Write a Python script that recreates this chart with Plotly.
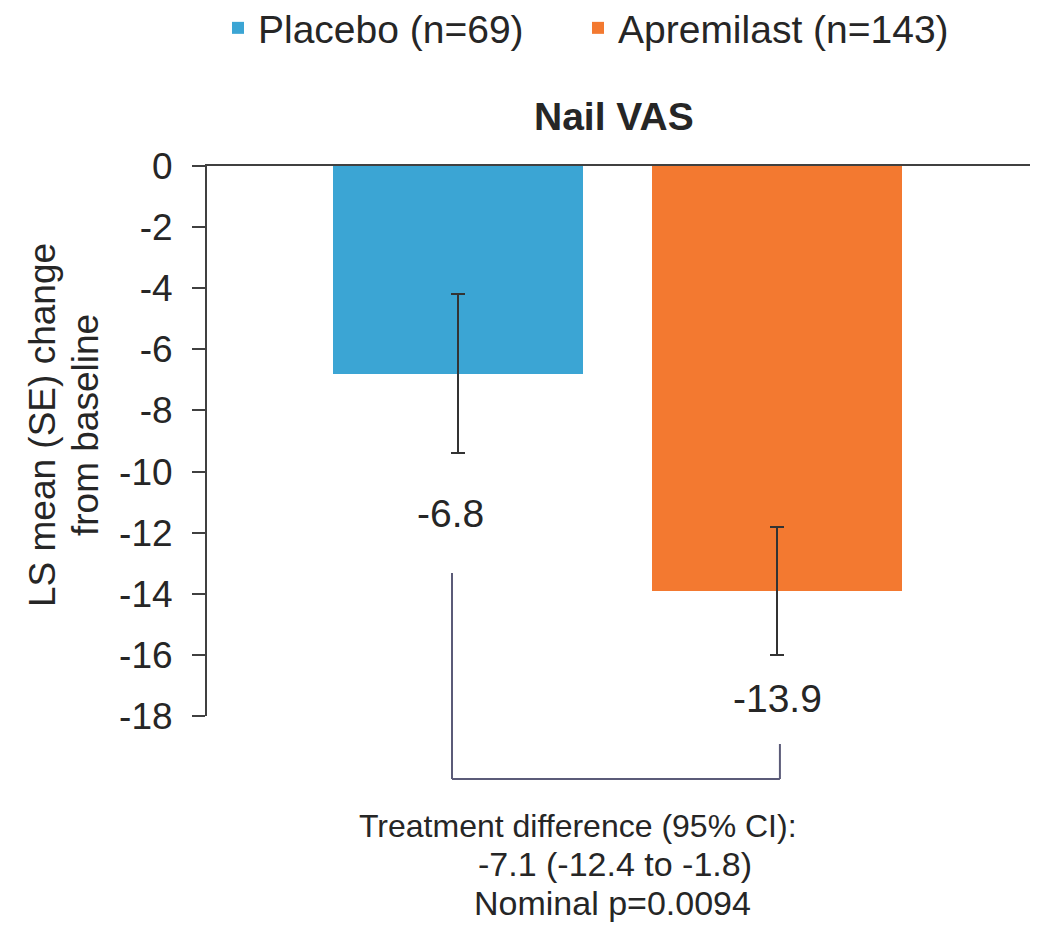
import plotly.graph_objects as go

# ---- data ----
groups = ["Placebo (n=69)", "Apremilast (n=143)"]
ls_mean = [-6.8, -13.9]
se = [2.6, 2.1]
value_labels = ["-6.8", "-13.9"]
colors = ["#3BA5D4", "#F37930"]
chart_title = "Nail VAS"
y_title_lines = ["LS mean (SE) change", "from baseline"]
y_ticks = [0, -2, -4, -6, -8, -10, -12, -14, -16, -18]
diff_lines = ["Treatment difference (95% CI):", "-7.1 (-12.4 to -1.8)", "Nominal p=0.0094"]

FONT = "Liberation Sans, Arial, Helvetica, sans-serif"
TXT = "#262626"
AX = "#404040"

# page offset (default body margin) and target plot area in page pixels
OFF = 8
W, H = 1043 - OFF, 929 - OFF
L, R, T, B = 207, 1030, 166, 716
def px(x):
    return (x - L) / (R - L)
def py(y):
    return (B - y) / (B - T)

fig = go.Figure()
legend_ids = ["legend", "legend2"]
for i, g in enumerate(groups):
    fig.add_trace(go.Bar(
        x=[i], y=[ls_mean[i]], name=g, width=0.784, legend=legend_ids[i],
        marker=dict(color=colors[i], line=dict(width=0)),
        error_y=dict(type="data", array=[se[i]], symmetric=True,
                     color="#333333", thickness=2, width=7),
    ))

# value labels below error bars
label_shift = [(-8, -60), (0, -44)]
for i in range(len(groups)):
    fig.add_annotation(x=i, y=ls_mean[i] - se[i], xref="x", yref="y",
                       text=value_labels[i], showarrow=False,
                       xshift=label_shift[i][0], yshift=label_shift[i][1],
                       yanchor="middle", font=dict(size=39, color=TXT, family=FONT))

# bracket for treatment difference
bcol = "#5B5B78"
fig.add_shape(type="line", xref="x", yref="paper", x0=-0.019, x1=-0.019, y0=py(573), y1=py(779),
              line=dict(color=bcol, width=2))
fig.add_shape(type="line", xref="x", yref="paper", x0=1.009, x1=1.009, y0=py(744), y1=py(779),
              line=dict(color=bcol, width=2))
fig.add_shape(type="line", xref="x", yref="paper", x0=-0.019, x1=1.009, y0=py(779), y1=py(779),
              line=dict(color=bcol, width=2))

# treatment-difference text
diff_pos = [(578, 826), (615, 864), (612, 903)]
diff_size = [32, 34, 34]
for (x, y), t, s in zip(diff_pos, diff_lines, diff_size):
    fig.add_annotation(x=px(x), y=py(y), xref="paper", yref="paper",
                       text=t, showarrow=False, xanchor="center", yanchor="middle",
                       font=dict(size=s, color=TXT, family=FONT))

# chart title
fig.add_annotation(x=px(614), y=py(116), xref="paper", yref="paper",
                   text="<b>" + chart_title + "</b>", showarrow=False,
                   xanchor="center", yanchor="middle",
                   font=dict(size=39, color=TXT, family=FONT))

# y title (two rotated lines)
for (x, t) in zip([42, 85], y_title_lines):
    fig.add_annotation(x=px(x), y=py(425), xref="paper", yref="paper",
                       text=t, showarrow=False, textangle=-90,
                       xanchor="center", yanchor="middle",
                       font=dict(size=37, color=TXT, family=FONT))

leg_common = dict(orientation="h", xanchor="left", yanchor="middle", y=py(28),
                  font=dict(size=39, color=TXT, family=FONT),
                  itemclick=False, itemdoubleclick=False)

fig.update_layout(
    width=W, height=H,
    margin=dict(l=L - OFF, r=(W + OFF) - R, t=T - OFF, b=(H + OFF) - B, autoexpand=False),
    paper_bgcolor="white", plot_bgcolor="white",
    font=dict(family=FONT, color=TXT),
    showlegend=True,
    legend=dict(x=px(218), **leg_common),
    legend2=dict(x=px(578), **leg_common),
    xaxis=dict(range=[-0.787, 1.793], side="top", showline=True, linecolor=AX, linewidth=2,
               showticklabels=False, ticks="", showgrid=False, zeroline=False,
               fixedrange=True, automargin=False),
    yaxis=dict(range=[-18, 0], tickvals=y_ticks, ticktext=[str(v) for v in y_ticks],
               showline=True, linecolor=AX, linewidth=2, ticks="outside", ticklen=13,
               tickwidth=2, tickcolor=AX, showgrid=False, zeroline=False,
               tickfont=dict(size=37, color=TXT, family=FONT), ticklabelstandoff=12,
               fixedrange=True, automargin=False),
    bargap=0,
)

fig.write_html("out.html")
